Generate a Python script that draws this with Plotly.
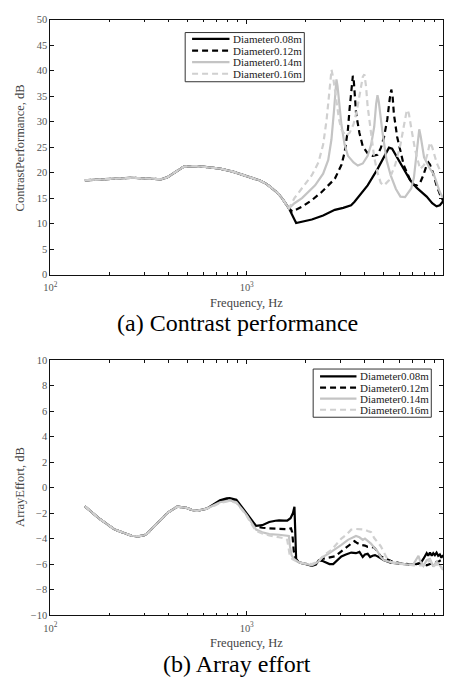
import plotly.graph_objects as go

W, H = 450, 682


def px(x):
    return x / W


def py(y):
    return 1 - y / H


series_names = ["Diameter0.08m", "Diameter0.12m", "Diameter0.14m", "Diameter0.16m"]
colors = ["#000000", "#000000", "#c4c4c4", "#d0d0d0"]
dashes = ["solid", "6px,4px", "solid", "6px,4px"]

# ---------------- (a) Contrast performance ----------------
fa_common = [150, 190, 259, 326, 366, 395, 440, 479, 558, 640, 731, 850, 957, 1060,
             1159, 1260, 1352, 1440, 1518, 1580, 1640]
va_common = [18.5, 18.7, 19.0, 18.8, 18.7, 19.1, 20.3, 21.2, 21.3, 21.1, 20.8, 20.2,
             19.5, 19.0, 18.5, 17.8, 16.9, 16.0, 14.9, 14.0, 13.0]

fa_08 = [1785, 1950, 2146, 2450, 2810, 3100, 3400, 3540, 3800, 4128, 4633, 5000, 5301,
         5500, 5836, 6302, 6803, 7347, 8249, 8800, 9260, 9623, 10000]
va_08 = [10.1, 10.5, 10.8, 11.6, 12.7, 13.1, 13.6, 14.3, 15.8, 17.5, 20.7, 23.0, 24.9,
         24.7, 23.0, 20.7, 18.5, 17.0, 15.3, 14.0, 13.4, 13.6, 14.4]

fa_12 = [1704, 1840, 1912, 2146, 2409, 2810, 3034, 3153, 3277, 3340, 3405, 3440, 3471,
         3510, 3539, 3607, 3749, 3897, 4128, 4375, 4633, 4814, 5003, 5199, 5350, 5446,
         5530, 5616, 5836, 6065, 6302, 6803, 7070, 7347, 7635, 7934, 8249, 8413, 8573,
         8910, 9260, 9623, 10000]
va_12 = [12.4, 12.9, 13.3, 14.6, 16.2, 18.8, 21.5, 24.0, 28.5, 32.5, 36.5, 38.5, 39.0,
         38.0, 35.5, 31.5, 27.8, 25.2, 23.8, 23.3, 23.5, 24.8, 27.0, 30.5, 34.5, 36.3,
         35.0, 31.5, 27.0, 24.0, 21.5, 18.5, 17.6, 17.5, 18.0, 19.5, 21.5, 22.0, 21.6,
         19.8, 17.5, 15.8, 14.5]

fa_14 = [1750, 1912, 2230, 2450, 2601, 2700, 2780, 2840, 2864, 2900, 2960, 3034, 3150,
         3277, 3500, 3678, 3900, 4128, 4300, 4458, 4560, 4633, 4700, 4814, 4909, 5150,
         5404, 5750, 6065, 6400, 6880, 7100, 7300, 7450, 7560, 7700, 8000, 8500, 9000,
         9623, 10000]
va_14 = [14.0, 15.0, 17.5, 19.8, 22.5, 26.5, 32.0, 37.0, 38.3, 37.0, 33.5, 29.5, 25.5,
         23.3, 22.0, 21.4, 21.8, 23.3, 25.5, 29.0, 33.5, 35.2, 34.0, 30.5, 28.0, 22.5,
         19.5, 16.8, 15.3, 15.2, 16.9, 19.0, 23.5, 27.5, 28.5, 27.0, 23.0, 21.0, 19.5,
         16.2, 15.0]

fa_16 = [1750, 1912, 2146, 2318, 2450, 2552, 2630, 2703, 2760, 2864, 2950, 3034, 3200,
         3340, 3500, 3650, 3800, 3900, 3972, 4050, 4128, 4290, 4458, 4633, 4814, 5003,
         5300, 5700, 6065, 6300, 6500, 6600, 6700, 6900, 7200, 7635, 8000, 8300, 8573,
         8800, 9260, 9623, 10000]
va_16 = [15.0, 16.9, 19.5, 22.0, 25.5, 30.4, 36.0, 40.2, 38.5, 34.0, 30.5, 28.5, 27.2,
         27.8, 29.5, 32.5, 36.5, 38.8, 39.3, 37.0, 33.0, 27.5, 23.0, 20.0, 18.0, 17.5,
         18.5, 21.5, 25.5, 29.0, 31.8, 32.3, 31.5, 28.5, 24.5, 20.7, 21.5, 23.5, 25.9,
         25.0, 22.0, 20.5, 20.0]

# ---------------- (b) Array effort ----------------
fb_common = [150, 177, 213, 259, 279, 300, 313, 351, 395, 443, 488, 525, 558, 626]
vb_common = [-1.47, -2.42, -3.3, -3.78, -3.83, -3.75, -3.57, -2.8, -1.98, -1.5, -1.57,
             -1.75, -1.83, -1.65]

fb_08 = [680, 731, 790, 820, 886, 994, 1060, 1116, 1200, 1302, 1400, 1461, 1550, 1608,
         1671, 1720, 1750, 1765, 1785, 1840, 1950, 2146, 2250, 2330, 2420, 2520, 2640,
         2756, 2900, 3034, 3200, 3405, 3600, 3750, 3897, 4000, 4128, 4250, 4375, 4500,
         4633, 5003, 5404, 6065, 6803, 7347, 7700, 7934, 8100, 8249, 8400, 8573, 8750,
         8910, 9080, 9260, 9440, 9623, 9800, 10000]
vb_08 = [-1.3, -1.0, -0.85, -0.83, -0.95, -1.95, -2.6, -3.0, -2.95, -2.7, -2.6, -2.57,
         -2.6, -2.6, -2.4, -2.0, -1.5, -3.5, -5.6, -5.85, -5.95, -6.15, -6.05, -5.7,
         -5.75, -5.85, -6.0, -6.0, -5.7, -5.4, -5.25, -5.1, -5.15, -5.05, -5.45, -5.25,
         -5.2, -5.45, -5.35, -5.3, -5.4, -5.7, -5.9, -6.0, -6.05, -6.0, -5.9, -5.6, -5.3,
         -5.15, -5.35, -5.1, -5.35, -5.15, -5.3, -5.1, -5.35, -5.25, -5.5, -5.3]

fb_12 = [680, 731, 820, 886, 994, 1060, 1116, 1200, 1302, 1461, 1608, 1680, 1704, 1720,
         1737, 1771, 1840, 1950, 2146, 2300, 2409, 2600, 2810, 3034, 3277, 3420, 3539,
         3650, 3822, 4000, 4128, 4458, 4814, 5404, 6065, 7070, 7635, 8249, 8910, 9500,
         10000]
vb_12 = [-1.35, -1.1, -0.95, -1.1, -2.05, -2.7, -3.05, -3.15, -3.2, -3.25, -3.27, -3.2,
         -3.5, -4.2, -5.0, -5.6, -5.9, -5.95, -6.1, -5.85, -5.6, -5.5, -5.4, -5.0, -4.6,
         -4.35, -4.2, -4.35, -4.5, -4.55, -4.65, -4.7, -5.4, -5.75, -5.95, -6.05, -5.95,
         -6.1, -5.9, -5.8, -5.6]

fb_14 = [680, 731, 820, 886, 994, 1060, 1116, 1200, 1302, 1461, 1578, 1639, 1660, 1691,
         1737, 1840, 1950, 2146, 2300, 2409, 2600, 2810, 3034, 3277, 3471, 3600, 3749,
         3900, 4000, 4128, 4290, 4458, 4633, 4814, 5003, 5404, 6065, 6600, 7070, 7350,
         7491, 7650, 7934, 8249, 8573, 8910, 9260, 9623, 10000]
vb_14 = [-1.4, -1.15, -1.0, -1.15, -2.1, -2.8, -3.3, -3.5, -3.65, -3.7, -3.75, -3.8,
         -4.6, -5.3, -5.6, -5.85, -5.95, -6.1, -5.85, -5.5, -5.2, -4.86, -4.5, -4.1,
         -3.9, -3.8, -3.9, -4.1, -4.0, -4.15, -4.4, -4.7, -5.0, -5.45, -5.7, -5.85,
         -5.95, -6.05, -6.0, -5.6, -5.35, -5.8, -6.15, -5.7, -5.6, -6.2, -5.8, -6.1,
         -6.45]

fb_16 = [680, 731, 820, 886, 994, 1060, 1116, 1200, 1302, 1461, 1578, 1608, 1625, 1652,
         1704, 1840, 1950, 2146, 2318, 2503, 2700, 2864, 3034, 3214, 3405, 3600, 3822,
         4000, 4128, 4300, 4458, 4633, 4814, 5003, 5199, 5500, 6065, 7070, 7934, 8573,
         8910, 9260, 9623, 10000]
vb_16 = [-1.45, -1.2, -1.05, -1.2, -2.15, -2.9, -3.4, -3.6, -3.75, -3.9, -4.0, -4.1,
         -4.6, -5.2, -5.6, -5.9, -5.95, -6.0, -5.8, -5.24, -4.9, -4.47, -4.0, -3.7,
         -3.3, -3.25, -3.3, -3.3, -3.4, -3.5, -3.96, -4.3, -4.6, -5.1, -5.6, -5.9, -6.0,
         -6.1, -6.1, -5.7, -6.2, -6.0, -6.3, -6.3]

x_tickvals = [100, 1000, 10000]
x_ticktext = ["10<sup>2</sup>", "10<sup>3</sup>", "10<sup>4</sup>"]
x_minor = [m * d for d in (100, 1000) for m in range(2, 10)]

panel_a = [(fa_08, va_08), (fa_12, va_12), (fa_14, va_14), (fa_16, va_16)]
panel_b = [(fb_08, vb_08), (fb_12, vb_12), (fb_14, vb_14), (fb_16, vb_16)]

fig = go.Figure()

for i, (f, v) in enumerate(panel_a):
    fig.add_trace(go.Scatter(
        x=fa_common + f, y=va_common + v, mode="lines", name=series_names[i],
        line=dict(color=colors[i], width=2.2, dash=dashes[i]),
        xaxis="x", yaxis="y", showlegend=False))

for i, (f, v) in enumerate(panel_b):
    fig.add_trace(go.Scatter(
        x=fb_common + f, y=vb_common + v, mode="lines", name=series_names[i],
        line=dict(color=colors[i], width=2.2, dash=dashes[i]),
        xaxis="x2", yaxis="y2", showlegend=False))

tick_font = dict(family="Liberation Serif", size=10.5, color="#555555")
xcommon = dict(type="log", range=[2, 4], showgrid=False, zeroline=False,
               showline=True, linecolor="#111111", linewidth=1, mirror="ticks",
               ticks="inside", ticklen=4, tickcolor="#111111",
               tickvals=x_tickvals, ticktext=x_ticktext, tickfont=tick_font,
               ticklabelstandoff=3,
               minor=dict(ticks="inside", ticklen=2.5, tickcolor="#111111",
                          tickvals=x_minor, showgrid=False),
               domain=[px(44), px(443)])
ycommon = dict(showgrid=False, zeroline=False, showline=True, linecolor="#111111",
               linewidth=1, mirror="ticks", ticks="inside", ticklen=4,
               tickcolor="#111111", tickfont=tick_font)

fig.update_layout(
    width=W, height=H, margin=dict(l=0, r=0, t=0, b=0),
    paper_bgcolor="white", plot_bgcolor="white",
    xaxis=dict(**xcommon, anchor="y"),
    yaxis=dict(**ycommon, range=[0, 50], dtick=5, domain=[py(274), py(15)],
               anchor="x"),
    xaxis2=dict(**xcommon, anchor="y2"),
    yaxis2=dict(**ycommon, range=[-10, 10], dtick=2, domain=[py(620), py(361)],
                anchor="x2"),
)

title_font = dict(family="Liberation Serif", size=12.5, color="#444444")
sub_font = dict(family="Liberation Serif", size=24, color="#000000")
annotations = [
    dict(text="Frequency, Hz", x=px(243), y=py(303), font=title_font),
    dict(text="Frequency, Hz", x=px(243), y=py(648), font=title_font),
    dict(text="ContrastPerformance, dB", x=px(13), y=py(145), font=title_font,
         textangle=-90),
    dict(text="ArrayEffort, dB", x=px(13), y=py(490), font=title_font, textangle=-90),
    dict(text="(a) Contrast performance", x=px(234), y=py(323), font=sub_font),
    dict(text="(b) Array effort", x=px(234), y=py(670), font=sub_font),
]
for a in annotations:
    a.update(xref="paper", yref="paper", showarrow=False, xanchor="center",
             yanchor="middle")

shapes = []
legend_font = dict(family="Liberation Serif", size=11, color="#222222")
# custom legend boxes (box x0, x1, y0, y1, first row y, row step, line x0, x1, text x)
legend_boxes = [(181, 302, 28, 78, 34.5, 11.8, 188, 226, 228),
                (311, 431, 370, 419, 377.5, 11.3, 318, 355, 357)]
for (bx0, bx1, by0, by1, ry, rs, lx0, lx1, tx) in legend_boxes:
    shapes.append(dict(type="rect", xref="paper", yref="paper",
                       x0=px(bx0), x1=px(bx1), y0=py(by1), y1=py(by0),
                       line=dict(color="#333333", width=1), fillcolor="white",
                       layer="above"))
    for i, name in enumerate(series_names):
        yy = ry + i * rs
        shapes.append(dict(type="line", xref="paper", yref="paper",
                           x0=px(lx0), x1=px(lx1), y0=py(yy), y1=py(yy),
                           line=dict(color=colors[i], width=2.2, dash=dashes[i]),
                           layer="above"))
        annotations.append(dict(text=name, x=px(tx), y=py(yy), xref="paper",
                                yref="paper", showarrow=False, xanchor="left",
                                yanchor="middle", font=legend_font))

fig.update_layout(annotations=annotations, shapes=shapes)

fig.write_html("out.html")
